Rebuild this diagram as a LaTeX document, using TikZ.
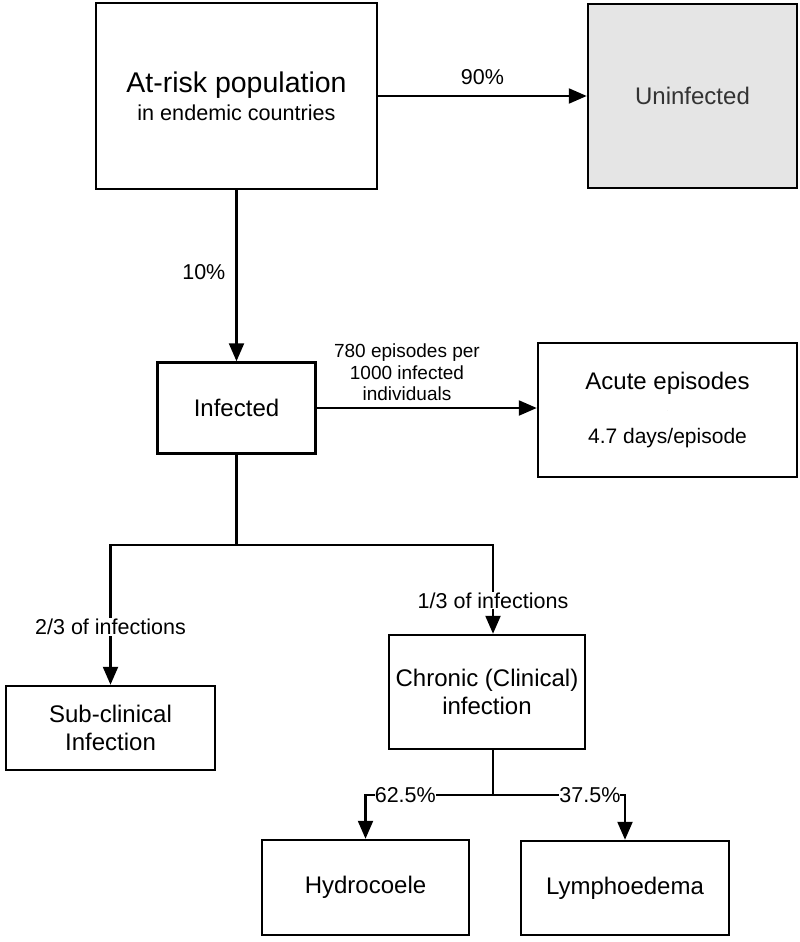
\documentclass[tikz,border=0pt]{standalone}
\usepackage{fontspec}
\setmainfont{Liberation Sans}
\usetikzlibrary{arrows.meta}
\tikzset{
  box/.style={draw=black, line width=2.5pt, rectangle, inner sep=0pt, align=center, font=\fontsize{24}{28}\selectfont},
  arr/.style={line width=2.3pt, -{Triangle[length=18pt,width=15pt]}},
  ln/.style={line width=2.3pt},
  lab/.style={font=\fontsize{21.5}{24}\selectfont, align=center, inner sep=1pt},
  labw/.style={lab, fill=white}
}
\begin{document}
\begin{tikzpicture}[x=1pt,y=-1pt]
\useasboundingbox (0,0) rectangle (800,942);
% nodes
\node[box, minimum width=281pt, minimum height=186pt] (atrisk) at (236.5,96)
  {{\fontsize{28.5}{34}\selectfont At-risk population}\\[0pt]{\fontsize{21.6}{26}\selectfont in endemic countries}};
\node[box, fill=black!10, text=black!80, minimum width=209pt, minimum height=184pt] (uninf) at (692.5,96) {Uninfected};
\node[box, minimum width=158pt, minimum height=91pt] (inf) at (236.5,408) {Infected};
\node[box, minimum width=259pt, minimum height=134pt] (acute) at (667.5,410)
  {Acute episodes\\[-6pt]{\color{black!40}\fontsize{3}{10}\selectfont .}\\[4pt]{\fontsize{21}{24}\selectfont 4.7 days/episode}};
\node[box, minimum width=209pt, minimum height=84pt] (sub) at (110.5,728) {Sub-clinical\\Infection};
\node[box, minimum width=196pt, minimum height=114pt] (chr) at (487,692) {Chronic (Clinical)\\infection};
\node[box, minimum width=207pt, minimum height=95pt] (hyd) at (365.5,887.5) {Hydrocoele};
\node[box, minimum width=208pt, minimum height=94pt] (lym) at (625,888) {Lymphoedema};
% helper coordinates
\coordinate (j1) at (236.5,545);
\coordinate (chrin) at ([xshift=6pt]chr.north);
\coordinate (chrout) at ([xshift=6pt]chr.south);
\coordinate (j2) at (493,795);
% connectors
\draw[arr] (atrisk) -- node[lab, above=9pt] {90\%} (uninf);
\draw[arr] (atrisk) -- node[lab, pos=0.48, left=9pt] {10\%} (inf);
\draw[arr] (inf) -- node[lab, above=5pt, pos=0.41, font=\fontsize{19}{21.5}\selectfont] {780 episodes per\\1000 infected\\individuals} (acute.west |- inf);
\draw[ln] (inf.south) -- (j1);
\draw[arr] (j1) -| node[labw, pos=0.793] {2/3 of infections} (sub.north);
\draw[arr] (j1) -| node[labw, pos=0.813] {1/3 of infections} (chrin);
\draw[ln] (chrout) -- (j2);
\draw[arr] (j2) -| node[labw, pos=0.344, inner sep=0pt] {62.5\%} (hyd.north);
\draw[arr] (j2) -| node[labw, pos=0.367, inner sep=0pt] {37.5\%} (lym.north);
\end{tikzpicture}
\end{document}
